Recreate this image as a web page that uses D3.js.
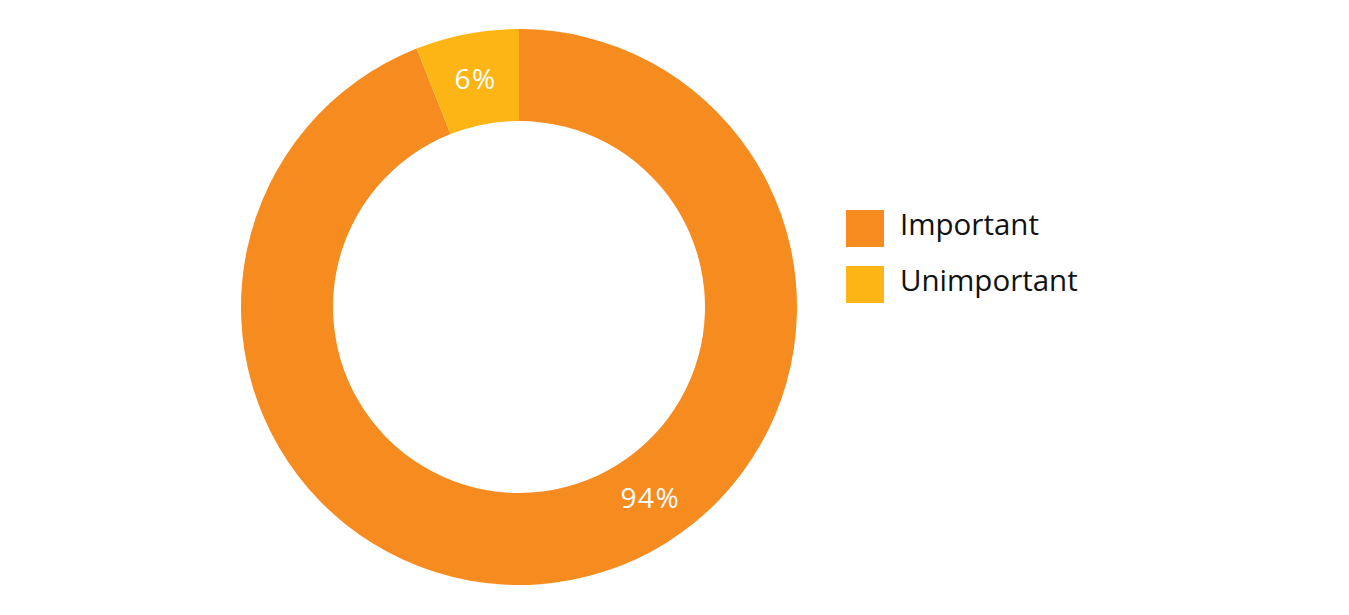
<!DOCTYPE html>
<html>
<head>
<meta charset="utf-8">
<script src="https://cdn.jsdelivr.net/npm/d3@7"></script>
<style>
  body { margin: 0; background: #fff; }
  svg { display: block; }
</style>
</head>
<body>
<div id="chart"></div>
<script>
const categories = ["Important", "Unimportant"];
const values = [94, 6];
const colors = ["#F68B1F", "#FDB515"];
// where along each slice its label sits (0 = start, 1 = end)
const labelPos = [0.43, 0.5];

const width = 1349,
  height = 615;
const cx = 519,
  cy = 307;
const outerR = 278,
  innerR = 186;

const svg = d3.select("#chart").append("svg").attr("width", width).attr("height", height);

const g = svg.append("g").attr("transform", `translate(${cx}, ${cy})`);

const data = categories.map((c, i) => ({ key: c, value: values[i] }));
const pie = d3.pie().sort(null).value((d) => d.value);
const arcs = pie(data);

const color = d3.scaleOrdinal().domain(categories).range(colors);

const arc = d3.arc().innerRadius(innerR).outerRadius(outerR);

g.selectAll("path")
  .data(arcs)
  .join("path")
  .attr("d", arc)
  .attr("fill", (d) => color(d.data.key));

g.selectAll("text")
  .data(arcs)
  .join("text")
  .attr("transform", (d, i) => {
    const a = d.startAngle + (d.endAngle - d.startAngle) * labelPos[i];
    const r = (innerR + outerR) / 2;
    return `translate(${Math.sin(a) * r}, ${-Math.cos(a) * r})`;
  })
  .attr("text-anchor", "middle")
  .attr("dy", "0.35em")
  .style("fill", "#fff")
  .style("font-family", "'Open Sans', sans-serif")
  .style("font-size", "28px")
  .style("letter-spacing", "1.5px")
  .text((d) => `${d.data.value}%`);

// legend
const legend = svg
  .append("g")
  .attr("transform", "translate(846, 210)")
  .selectAll("g")
  .data(categories)
  .join("g")
  .attr("transform", (d, i) => `translate(0, ${i * 56})`);

legend.append("rect").attr("width", 38).attr("height", 37).attr("fill", (d) => color(d));

legend
  .append("text")
  .attr("x", 54)
  .attr("y", 25)
  .style("fill", "#111")
  .style("font-family", "'Open Sans', sans-serif")
  .style("font-size", "29.5px")
  .text((d) => d);
</script>
</body>
</html>
